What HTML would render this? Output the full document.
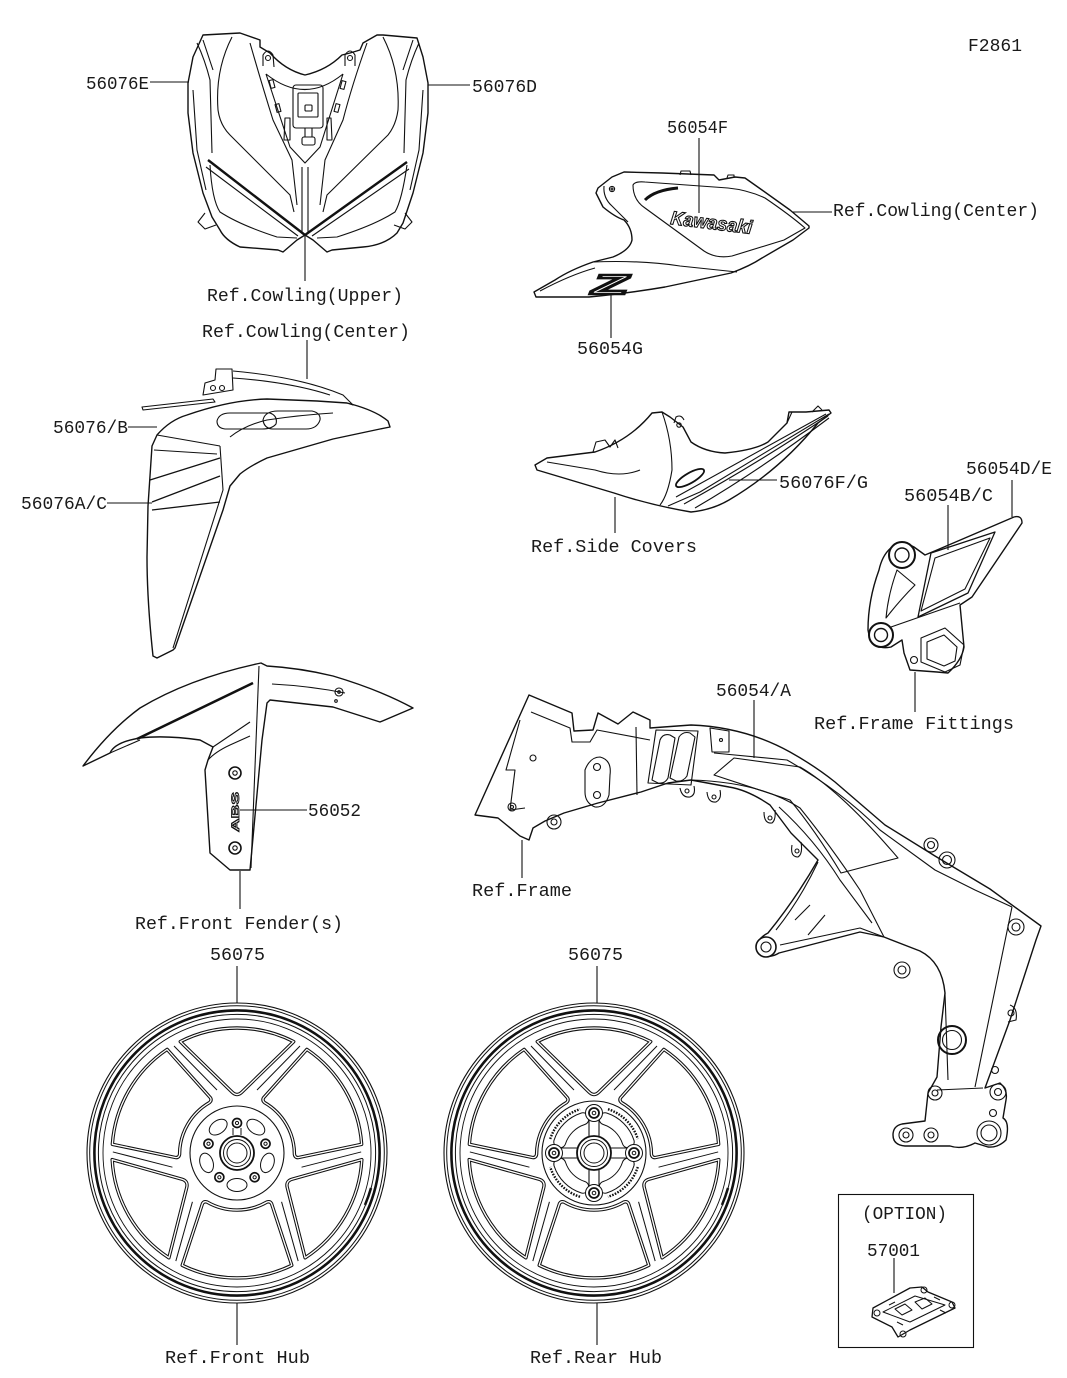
<!DOCTYPE html>
<html><head><meta charset="utf-8"><style>html,body{margin:0;padding:0;background:#fff}svg{display:block}</style></head>
<body>
<svg width="1067" height="1378" viewBox="0 0 1067 1378" xmlns="http://www.w3.org/2000/svg">
<defs>
<path id="wA" d="M-56.7,-111.4 A125,125 0 0 1 56.7,-111.4 L5,-61 Q0,-56 -5,-61 Z"/>
<path id="wB" d="M-54.8,-112.3 A125,125 0 0 1 54.8,-112.3 L34.5,-50.5 Q33,-48 30,-49 A60,60 0 0 0 -30,-49 Q-33,-48 -34.5,-50.5 Z"/>
<path id="sc" d="M63,-107 L20,-63 M-63,-107 L-20,-63"/>
<g id="wheel">
 <g fill="none" stroke="#111">
  <circle r="150" stroke-width="1.1"/>
  <circle r="147.3" stroke-width="1"/>
  <circle r="142.6" stroke-width="2.6"/>
  <circle r="138.6" stroke-width="1"/>
  <circle r="134" stroke-width="0.9"/>
 </g>
 <g fill="none" stroke="#111" stroke-width="3.4" stroke-linejoin="round">
  <use href="#wA"/><use href="#wA" transform="rotate(120)"/><use href="#wA" transform="rotate(240)"/>
  <use href="#wB" transform="rotate(60)"/><use href="#wB" transform="rotate(180)"/><use href="#wB" transform="rotate(300)"/>
 </g>
 <g fill="none" stroke="#fff" stroke-width="1.3" stroke-linejoin="round">
  <use href="#wA"/><use href="#wA" transform="rotate(120)"/><use href="#wA" transform="rotate(240)"/>
  <use href="#wB" transform="rotate(60)"/><use href="#wB" transform="rotate(180)"/><use href="#wB" transform="rotate(300)"/>
 </g>
 <g fill="none" stroke="#111" stroke-width="1">
  <use href="#sc"/><use href="#sc" transform="rotate(120)"/><use href="#sc" transform="rotate(240)"/>
 </g>
 <path d="M134,35 A139,139 0 0 1 128,52" fill="none" stroke="#111" stroke-width="2.5"/>
</g>
</defs>

<!-- ===== TEXT LABELS ===== -->
<g font-family="Liberation Mono, monospace" font-size="18" fill="#1a1a1a">
<text x="968" y="51" textLength="54" lengthAdjust="spacingAndGlyphs">F2861</text>
<text x="86" y="89" textLength="63" lengthAdjust="spacingAndGlyphs">56076E</text>
<text x="472" y="92" textLength="65" lengthAdjust="spacingAndGlyphs">56076D</text>
<text x="207" y="301" textLength="196" lengthAdjust="spacingAndGlyphs">Ref.Cowling(Upper)</text>
<text x="667" y="133" textLength="61" lengthAdjust="spacingAndGlyphs">56054F</text>
<text x="833" y="216" textLength="206" lengthAdjust="spacingAndGlyphs">Ref.Cowling(Center)</text>
<text x="577" y="354" textLength="66" lengthAdjust="spacingAndGlyphs">56054G</text>
<text x="202" y="337" textLength="208" lengthAdjust="spacingAndGlyphs">Ref.Cowling(Center)</text>
<text x="53" y="433" textLength="75" lengthAdjust="spacingAndGlyphs">56076/B</text>
<text x="21" y="509" textLength="86" lengthAdjust="spacingAndGlyphs">56076A/C</text>
<text x="779" y="488" textLength="89" lengthAdjust="spacingAndGlyphs">56076F/G</text>
<text x="531" y="552" textLength="166" lengthAdjust="spacingAndGlyphs">Ref.Side Covers</text>
<text x="966" y="474" textLength="86" lengthAdjust="spacingAndGlyphs">56054D/E</text>
<text x="904" y="501" textLength="89" lengthAdjust="spacingAndGlyphs">56054B/C</text>
<text x="814" y="729" textLength="200" lengthAdjust="spacingAndGlyphs">Ref.Frame Fittings</text>
<text x="716" y="696" textLength="75" lengthAdjust="spacingAndGlyphs">56054/A</text>
<text x="472" y="896" textLength="100" lengthAdjust="spacingAndGlyphs">Ref.Frame</text>
<text x="308" y="816" textLength="53" lengthAdjust="spacingAndGlyphs">56052</text>
<text x="135" y="929" textLength="208" lengthAdjust="spacingAndGlyphs">Ref.Front Fender(s)</text>
<text x="210" y="960" textLength="55" lengthAdjust="spacingAndGlyphs">56075</text>
<text x="568" y="960" textLength="55" lengthAdjust="spacingAndGlyphs">56075</text>
<text x="165" y="1363" textLength="145" lengthAdjust="spacingAndGlyphs">Ref.Front Hub</text>
<text x="530" y="1363" textLength="132" lengthAdjust="spacingAndGlyphs">Ref.Rear Hub</text>
<text x="862" y="1219" textLength="85" lengthAdjust="spacingAndGlyphs">(OPTION)</text>
<text x="867" y="1256" textLength="53" lengthAdjust="spacingAndGlyphs">57001</text>
</g>

<!-- ===== LEADER LINES ===== -->
<g stroke="#111" stroke-width="1.1" fill="none">
<path d="M150,82 H189"/>
<path d="M428,85 H470"/>
<path d="M305,236 V281"/>
<path d="M699,138 V213"/>
<path d="M793,212 H832"/>
<path d="M611,292 V338"/>
<path d="M307,340 V379"/>
<path d="M128,427 H157"/>
<path d="M107,503 H152"/>
<path d="M729,480 H777"/>
<path d="M615,497 V533"/>
<path d="M1012,480 V517"/>
<path d="M948,505 V550"/>
<path d="M915,672 V712"/>
<path d="M754,700 V758"/>
<path d="M522,840 V878"/>
<path d="M240,810 H307"/>
<path d="M240,871 V909"/>
<path d="M237,966 V1003"/>
<path d="M597,966 V1003"/>
<path d="M237,1303 V1345"/>
<path d="M597,1303 V1345"/>
<path d="M894,1258 V1293"/>
</g>

<!-- ===== UPPER COWLING ===== -->
<g stroke="#111" stroke-width="1.1" fill="none" stroke-linejoin="round">
<path d="M203,35 L240,33 L260,40 L260,47 L270,53 Q285,70 305,75 Q327,70 342,55 L350,53 L360,50 L363,43 L377,35 L383,35 L417,38 L423,57 L428,83 L428,113 L423,153 L413,193 L403,223 L397,233 Q385,245 363,247 L332,250 L327,252 L313,240 L305,235 L297,240 L283,252 L278,250 L240,247 Q225,240 220,230 L212,217 L203,193 L193,153 L188,113 L188,83 L193,57 Z" stroke-width="1.4"/>
<path d="M205,213 L198,222 L205,229 L216,225"/>
<path d="M405,213 L412,222 L405,229 L394,225"/>
<path d="M263,66 L263,55 Q268,47 273,55 L274,67"/>
<path d="M345,66 L345,55 Q350,47 355,55 L355,66"/>
<circle cx="268" cy="58" r="2.5"/><circle cx="350" cy="58" r="2.5"/>
<path d="M266,74 Q305,105 343,74"/>
<path d="M266,74 L290,147 L305,163 L320,147 L343,74"/>
<path d="M302,167 L302,234 M308,167 L308,234"/>
<rect x="293" y="85" width="30" height="43" rx="3"/>
<rect x="298" y="93" width="20" height="24" rx="1"/>
<rect x="305" y="105" width="7" height="6" rx="1"/>
<path d="M305,128 L305,137 M312,128 L312,137"/>
<rect x="302" y="137" width="13" height="8" rx="2"/>
<rect x="270" y="80" width="4" height="8" transform="rotate(-15 272 84)"/>
<rect x="276" y="104" width="4" height="8" transform="rotate(-15 278 108)"/>
<rect x="341" y="81" width="4" height="8" transform="rotate(15 343 85)"/>
<rect x="335" y="104" width="4" height="8" transform="rotate(15 337 108)"/>
<path d="M285,118 L284,140 L290,140 L290,118 Z"/>
<path d="M327,118 L327,140 L332,140 L331,118 Z"/>
<path d="M208,160 L305,235" stroke-width="2.4"/>
<path d="M407,162 L305,235" stroke-width="2.4"/>
<path d="M206,167 L298,236 M409,169 L312,236"/>
<path d="M210,165 Q212,200 220,212 Q240,225 277,237 L297,238"/>
<path d="M407,165 Q402,200 395,212 Q375,225 337,237 L317,238"/>
<path d="M232,37 Q215,70 218,110 Q220,125 230,135 L290,195 L294,212"/>
<path d="M250,43 Q262,85 273,120 L292,160 L297,205"/>
<path d="M383,37 Q400,70 398,110 Q396,125 388,135 L327,195 L323,212"/>
<path d="M367,43 Q352,85 343,120 L325,160 L320,205"/>
<path d="M197,43 Q205,60 210,80 L212,153 M203,40 L213,70 M193,90 L197,150 L206,190"/>
<path d="M419,43 Q411,60 406,80 L404,153 M413,40 L403,70 M423,90 L419,150 L410,190"/>
</g>

<!-- ===== COWLING CENTER (right) ===== -->
<g stroke="#111" stroke-width="1.1" fill="none" stroke-linejoin="round">
<path d="M598,188 L596,193 L603,207 Q615,217 624,220 Q632,228 632,240 Q630,250 613,257 L593,262 Q570,270 555,280 L534,292 L536,297 L589,297 Q630,293 665,287 L731,273 Q750,266 762,258 L793,240 L809,228 L809,226 L790,210 L762,190 L745,178 L735,177 L719,180 L714,175 L662,173 L624,172 L612,177 Z" stroke-width="1.4"/>
<path d="M680,175 L681,171 L690,171 L691,175 M727,178 L728,175 L734,175 L734,178"/>
<path d="M604,186 Q603,198 612,206 L628,222"/>
<path d="M633,185 Q633,200 645,208 L704,251 Q716,259 732,256 L784,240 L805,228 Q790,215 765,198 Q748,190 728,188 L645,182 Q635,181 633,185 Z"/>
<path d="M645,200 Q655,190 678,188" stroke-width="3"/>
<path d="M593,262 Q640,260 680,266 L737,272"/>
<path d="M540,291 Q570,275 595,268"/>
<circle cx="612" cy="189" r="2.6"/><circle cx="612" cy="189" r="1"/>
</g>
<text x="0" y="0" transform="translate(670,224) rotate(7)" font-family="Liberation Sans, sans-serif" font-size="19" font-weight="bold" font-style="italic" fill="#fff" stroke="#111" stroke-width="1.1" textLength="82" lengthAdjust="spacingAndGlyphs">Kawasaki</text>
<text x="592" y="294" font-family="Liberation Sans, sans-serif" font-size="28" font-weight="bold" font-style="italic" fill="#fff" stroke="#111" stroke-width="2.4" textLength="36" lengthAdjust="spacingAndGlyphs">Z</text>

<!-- ===== FRONT COWL (left) ===== -->
<g stroke="#111" stroke-width="1.1" fill="none" stroke-linejoin="round">
<path d="M157,435 Q170,420 187,415 Q230,400 267,399 L317,401 L347,403 Q375,410 388,421 L390,427 L380,429 L333,439 L267,458 Q250,466 240,474 L230,486 L223,510 L175,648 L173,650 L157,658 L153,656 Q147,600 147,557 L148,506 L152,446 Z" stroke-width="1.4"/>
<path d="M142,407 L213,399 L215,402 L143,410 Z"/>
<path d="M233,371 Q300,377 343,395 L353,405 L347,403 M233,378 Q290,382 330,395"/>
<path d="M203,395 L205,383 L215,380 L216,369 L232,369 L233,390 Z"/>
<circle cx="213" cy="388" r="2.5"/><circle cx="222" cy="388" r="2.5"/>
<path d="M157,435 L220,446 M154,450 L217,454"/>
<path d="M150,480 L220,458 M152,502 L220,476 M152,510 L220,502" stroke-width="1.3"/>
<path d="M220,446 L223,490 L173,648"/>
<path d="M230,437 Q245,425 267,420 Q300,415 333,413"/>
<path d="M217,421 Q219,413 230,413 L270,413 Q278,416 276,424 Q272,429 262,429 L225,429 Q217,428 217,421 Z"/>
<path d="M263,420 Q265,411 278,411 L312,411 Q321,413 320,420 Q317,429 306,429 L272,429 Q264,428 263,420 Z"/>
</g>

<!-- ===== FRONT FENDER ===== -->
<g stroke="#111" stroke-width="1.1" fill="none" stroke-linejoin="round">
<path d="M83,766 Q110,730 140,708 Q190,678 261,663 L267,666 Q300,668 333,676 Q380,690 413,708 L380,722 L333,707 L270,700 L267,703 L262,740 L250,870 L230,870 L210,853 L205,770 L208,760 L213,747 L200,740 Q165,735 140,738 Q115,742 110,753 Z" stroke-width="1.4"/>
<path d="M137,739 L253,683" stroke-width="2.6"/>
<path d="M110,753 L140,740"/>
<path d="M259,666 L251,868"/>
<path d="M208,760 Q215,752 230,745 L250,736 M213,747 L250,722"/>
<path d="M272,684 Q310,686 345,693"/>
<circle cx="235" cy="773" r="6" stroke-width="1.6"/><circle cx="235" cy="773" r="2.2"/>
<circle cx="235" cy="848" r="6" stroke-width="1.6"/><circle cx="235" cy="848" r="2.2"/>
<circle cx="339" cy="692" r="4"/><circle cx="339" cy="692" r="1.3"/>
<circle cx="336" cy="701" r="1.3"/>
</g>
<text x="0" y="0" transform="translate(239,832) rotate(-90)" font-family="Liberation Sans, sans-serif" font-size="11" font-weight="bold" fill="#fff" stroke="#111" stroke-width="0.9" textLength="40" lengthAdjust="spacingAndGlyphs">ABS</text>

<!-- ===== SIDE COVER ===== -->
<g stroke="#111" stroke-width="1.1" fill="none" stroke-linejoin="round">
<path d="M535,465 L547,458 L595,452 Q630,440 652,413 L662,412 L670,417 L683,427 L691,442 Q705,452 725,453 Q755,450 768,442 L787,423 L789,412 L806,412 L829,410 L831,413 L818,423 Q780,470 729,500 Q712,510 691,512 Q650,505 614,493 Q570,480 537,470 Z" stroke-width="1.4"/>
<path d="M547,462 L595,470 Q620,478 640,470"/>
<path d="M662,412 Q672,440 672,470 Q668,495 660,505"/>
<path d="M593,452 L596,442 L605,440 L610,447 L615,440 L618,448"/>
<path d="M674,423 L676,417 Q681,414 684,420"/><circle cx="679" cy="425" r="2.2"/>
<path d="M668,506 L700,492 L829,414 M676,497 L826,414 M684,504 Q760,462 828,416 M695,508 Q760,470 829,418"/>
<ellipse cx="690" cy="478" rx="16" ry="5" transform="rotate(-30 690 478)" stroke-width="1.8"/>
<path d="M787,423 L792,412 L800,412 M812,412 L818,406 L822,410"/>
</g>

<!-- ===== FRAME FITTING ===== -->
<g stroke="#111" stroke-width="1.1" fill="none" stroke-linejoin="round">
<path d="M895,545 Q905,542 914,547 L925,555 L937,550 L1014,517 Q1022,515 1022,523 L972,597 L960,605 L964,647 Q962,660 948,673 L937,672 L910,670 L904,653 L902,640 L891,647 Q878,650 870,640 L868,630 Q868,600 879,570 Q883,552 895,545 Z" stroke-width="1.4"/>
<path d="M931,553 L995,532 L968,593 L918,617 Z" stroke-width="1.3"/>
<path d="M935,558 L990,538 L965,589 L921,611 Z"/>
<path d="M897,570 Q888,595 886,618 Q900,600 915,585 Z"/>
<path d="M891,627 L960,603"/>
<path d="M921,638 L945,628 L964,645 L960,665 L945,672 L921,662 Z"/>
<path d="M927,642 L944,635 L957,647 L955,661 L944,666 L927,659 Z"/>
<circle cx="902" cy="555" r="13" fill="#fff" stroke-width="2"/><circle cx="902" cy="555" r="7" stroke-width="1.4"/>
<circle cx="881" cy="635" r="12" fill="#fff" stroke-width="2"/><circle cx="881" cy="635" r="6.5" stroke-width="1.4"/>
<circle cx="914" cy="660" r="3.5"/>
</g>

<!-- ===== FRAME ===== -->
<g stroke="#111" stroke-width="1.1" fill="none" stroke-linejoin="round">
<path d="M475,815 L529,695 L572,713 L574,731 L593,730 L598,713 L618,724 L633,712 L650,720 L650,728 L691,725 Q745,727 790,752 Q815,766 835,782 L885,825 L935,856 L990,889 L1041,926 L1036,940 L1010,1020 L985,1088 L1000,1083 Q1008,1090 1006,1100 L1003,1118 Q1010,1122 1006,1140 Q998,1148 988,1147 L975,1143 Q962,1150 950,1146 L905,1146 Q893,1145 893,1135 Q893,1126 902,1124 L925,1121 L928,1093 L937,1077 L941,1027 L945,993 Q942,962 920,951 L884,937 L860,932 L779,953 Q768,960 758,952 Q754,940 768,933 Q795,900 818,860 L791,833 L770,805 Q748,790 729,787 L691,780 L668,783 L641,792 L598,803 L564,813 L545,821 L533,828 L529,840 L520,836 L498,818 Z" stroke-width="1.4"/>
<path d="M531,712 L570,728 L572,742 L590,742 L597,730 L650,740"/>
<path d="M520,720 L506,770 L515,770 L510,810 L525,808"/>
<path d="M636,727 L637,795"/>
<path d="M585,770 Q590,757 600,757 Q612,760 610,775 L609,795 Q605,808 595,807 Q585,803 585,792 Z"/>
<circle cx="597" cy="767" r="3.5"/><circle cx="597" cy="795" r="3.5"/>
<circle cx="533" cy="758" r="3"/><circle cx="512" cy="807" r="4"/><circle cx="512" cy="807" r="1.5"/>
<circle cx="554" cy="822" r="7"/><circle cx="554" cy="822" r="3"/>
<path d="M648,783 L656,730 L698,731 L691,785 Z"/>
<path d="M652,780 L660,740 Q663,733 670,735 L675,738 L668,778 Q665,784 658,783 Z"/>
<path d="M670,778 L679,737 Q683,731 690,733 L695,737 L687,776 Q683,782 676,781 Z"/>
<path d="M710,728 L729,731 L729,752 L712,752 Z"/><circle cx="721" cy="740" r="1.5"/>
<path d="M714,753 L787,760 Q840,790 880,830 L935,870 L975,890 L1012,907"/>
<path d="M714,775 L734,758 L800,767 Q840,790 898,858 L841,873 Q815,830 790,800 Z"/>
<path d="M691,780 Q760,782 800,808 Q830,845 860,890 L884,937"/>
<path d="M779,807 Q815,840 840,880 L872,923"/>
<path d="M1012,907 L975,1087 M945,993 L948,1080 M937,1090 L983,1088"/>
<path d="M818,862 Q800,900 776,930 M780,945 L860,928 L884,937"/>
<path d="M795,920 L810,905 M808,935 L825,915"/>
<path d="M680,788 Q682,798 690,797 Q696,795 694,786 M707,792 Q708,803 716,802 Q722,799 720,790 M764,812 Q764,824 772,823 Q776,820 775,810 M792,845 Q790,857 798,857 Q803,854 801,842"/>
<circle cx="687" cy="791" r="2"/><circle cx="714" cy="797" r="2"/><circle cx="770" cy="818" r="2"/><circle cx="797" cy="851" r="2"/>
<circle cx="931" cy="845" r="7"/><circle cx="931" cy="845" r="3.5"/>
<circle cx="947" cy="860" r="8"/><circle cx="947" cy="860" r="4.5"/>
<circle cx="1016" cy="927" r="8"/><circle cx="1016" cy="927" r="4"/>
<circle cx="902" cy="970" r="8"/><circle cx="902" cy="970" r="4"/>
<circle cx="952" cy="1040" r="14" stroke-width="2"/><circle cx="952" cy="1040" r="9.5"/>
<path d="M1010,1005 Q1018,1008 1016,1020 L1008,1022"/><circle cx="1011" cy="1013" r="3"/>
<circle cx="995" cy="1070" r="3.5"/>
<circle cx="935" cy="1093" r="7"/><circle cx="935" cy="1093" r="3"/>
<circle cx="998" cy="1092" r="8"/><circle cx="998" cy="1092" r="3.5"/>
<circle cx="993" cy="1113" r="3.5"/>
<circle cx="906" cy="1135" r="7"/><circle cx="906" cy="1135" r="3"/>
<circle cx="931" cy="1135" r="7"/><circle cx="931" cy="1135" r="3"/>
<circle cx="989" cy="1133" r="12" fill="#fff"/><circle cx="989" cy="1133" r="8"/>
<circle cx="766" cy="947" r="10" fill="#fff" stroke-width="1.6"/><circle cx="766" cy="947" r="5"/>
</g>

<!-- ===== WHEELS ===== -->
<use href="#wheel" transform="translate(237,1153)"/>
<use href="#wheel" transform="translate(594,1153)"/>

<!-- front hub -->
<g transform="translate(237,1153)" stroke="#111" fill="none">
<circle r="47" stroke-width="1.1"/>
<circle r="17" stroke-width="1.8"/><circle r="13.5"/><circle r="10"/>
<g stroke-width="1">
<ellipse rx="10" ry="6.5" transform="rotate(36) translate(0,-32)"/>
<ellipse rx="10" ry="6.5" transform="rotate(108) translate(0,-32)"/>
<ellipse rx="10" ry="6.5" transform="rotate(180) translate(0,-32)"/>
<ellipse rx="10" ry="6.5" transform="rotate(252) translate(0,-32)"/>
<ellipse rx="10" ry="6.5" transform="rotate(324) translate(0,-32)"/>
</g>
<g>
<g transform="rotate(0) translate(0,-30)"><circle r="4.5" stroke-width="1.7"/><circle r="1.6"/></g>
<g transform="rotate(72) translate(0,-30)"><circle r="4.5" stroke-width="1.7"/><circle r="1.6"/></g>
<g transform="rotate(144) translate(0,-30)"><circle r="4.5" stroke-width="1.7"/><circle r="1.6"/></g>
<g transform="rotate(216) translate(0,-30)"><circle r="4.5" stroke-width="1.7"/><circle r="1.6"/></g>
<g transform="rotate(288) translate(0,-30)"><circle r="4.5" stroke-width="1.7"/><circle r="1.6"/></g>
</g>
<path d="M-4,-18 L-4,-25 M4,-18 L4,-25"/>
</g>

<!-- rear hub -->
<g transform="translate(594,1153)" stroke="#111" fill="none">
<circle r="52" stroke-width="1.1"/>
<circle r="17" stroke-width="1.8"/><circle r="13.5"/><circle r="10"/>
<g stroke-width="13" stroke="#111" stroke-linecap="round">
<path d="M11.1,-34.2 A36,36 0 0 1 34.2,-11.1"/>
<path d="M34.2,11.1 A36,36 0 0 1 11.1,34.2"/>
<path d="M-11.1,34.2 A36,36 0 0 1 -34.2,11.1"/>
<path d="M-34.2,-11.1 A36,36 0 0 1 -11.1,-34.2"/>
</g>
<g stroke-width="11" stroke="#fff" stroke-linecap="round">
<path d="M11.1,-34.2 A36,36 0 0 1 34.2,-11.1"/>
<path d="M34.2,11.1 A36,36 0 0 1 11.1,34.2"/>
<path d="M-11.1,34.2 A36,36 0 0 1 -34.2,11.1"/>
<path d="M-34.2,-11.1 A36,36 0 0 1 -11.1,-34.2"/>
</g>
<g stroke-width="2.4" stroke-dasharray="1.6 1.3">
<path d="M14,-43.8 A46,46 0 0 1 43.8,-14"/>
<path d="M43.8,14 A46,46 0 0 1 14,43.8"/>
<path d="M-14,43.8 A46,46 0 0 1 -43.8,14"/>
<path d="M-43.8,-14 A46,46 0 0 1 -14,-43.8"/>
</g>
<g stroke-width="1.1">
<path d="M-5,-17 L-5,-33 M5,-17 L5,-33"/>
<path d="M-5,17 L-5,33 M5,17 L5,33"/>
<path d="M-17,-5 L-33,-5 M-17,5 L-33,5"/>
<path d="M17,-5 L33,-5 M17,5 L33,5"/>
</g>
<g fill="#fff">
<circle cx="0" cy="-40" r="8.5"/><circle cx="0" cy="40" r="8.5"/><circle cx="-40" cy="0" r="8.5"/><circle cx="40" cy="0" r="8.5"/>
</g>
<g stroke-width="1.8">
<circle cx="0" cy="-40" r="5"/><circle cx="0" cy="40" r="5"/><circle cx="-40" cy="0" r="5"/><circle cx="40" cy="0" r="5"/>
</g>
<circle cx="0" cy="-40" r="1.8"/><circle cx="0" cy="40" r="1.8"/><circle cx="-40" cy="0" r="1.8"/><circle cx="40" cy="0" r="1.8"/>
</g>

<!-- ===== OPTION BOX ===== -->
<rect x="838.5" y="1194.5" width="135" height="153" fill="none" stroke="#111" stroke-width="1.1"/>
<g stroke="#111" stroke-width="1" fill="none" stroke-linejoin="round">
<path d="M873,1308 L910,1288 L922,1287 L928,1292 L952,1302 L955,1308 L910,1330 L898,1337 L892,1327 L872,1317 Z" stroke-width="1.3"/>
<path d="M883,1312 L915,1296 L945,1305 L910,1322 Z"/>
<path d="M895,1309 L905,1304 L912,1310 L902,1315 Z M915,1302 L925,1298 L932,1304 L922,1309 Z"/>
<path d="M889,1305 L895,1302 M934,1297 L940,1300 M897,1322 L903,1325 M940,1310 L946,1313"/>
<circle cx="877" cy="1313" r="3"/><circle cx="903" cy="1334" r="3"/><circle cx="924" cy="1290" r="3"/><circle cx="952" cy="1305" r="3"/>
</g>
</svg>
</body></html>
